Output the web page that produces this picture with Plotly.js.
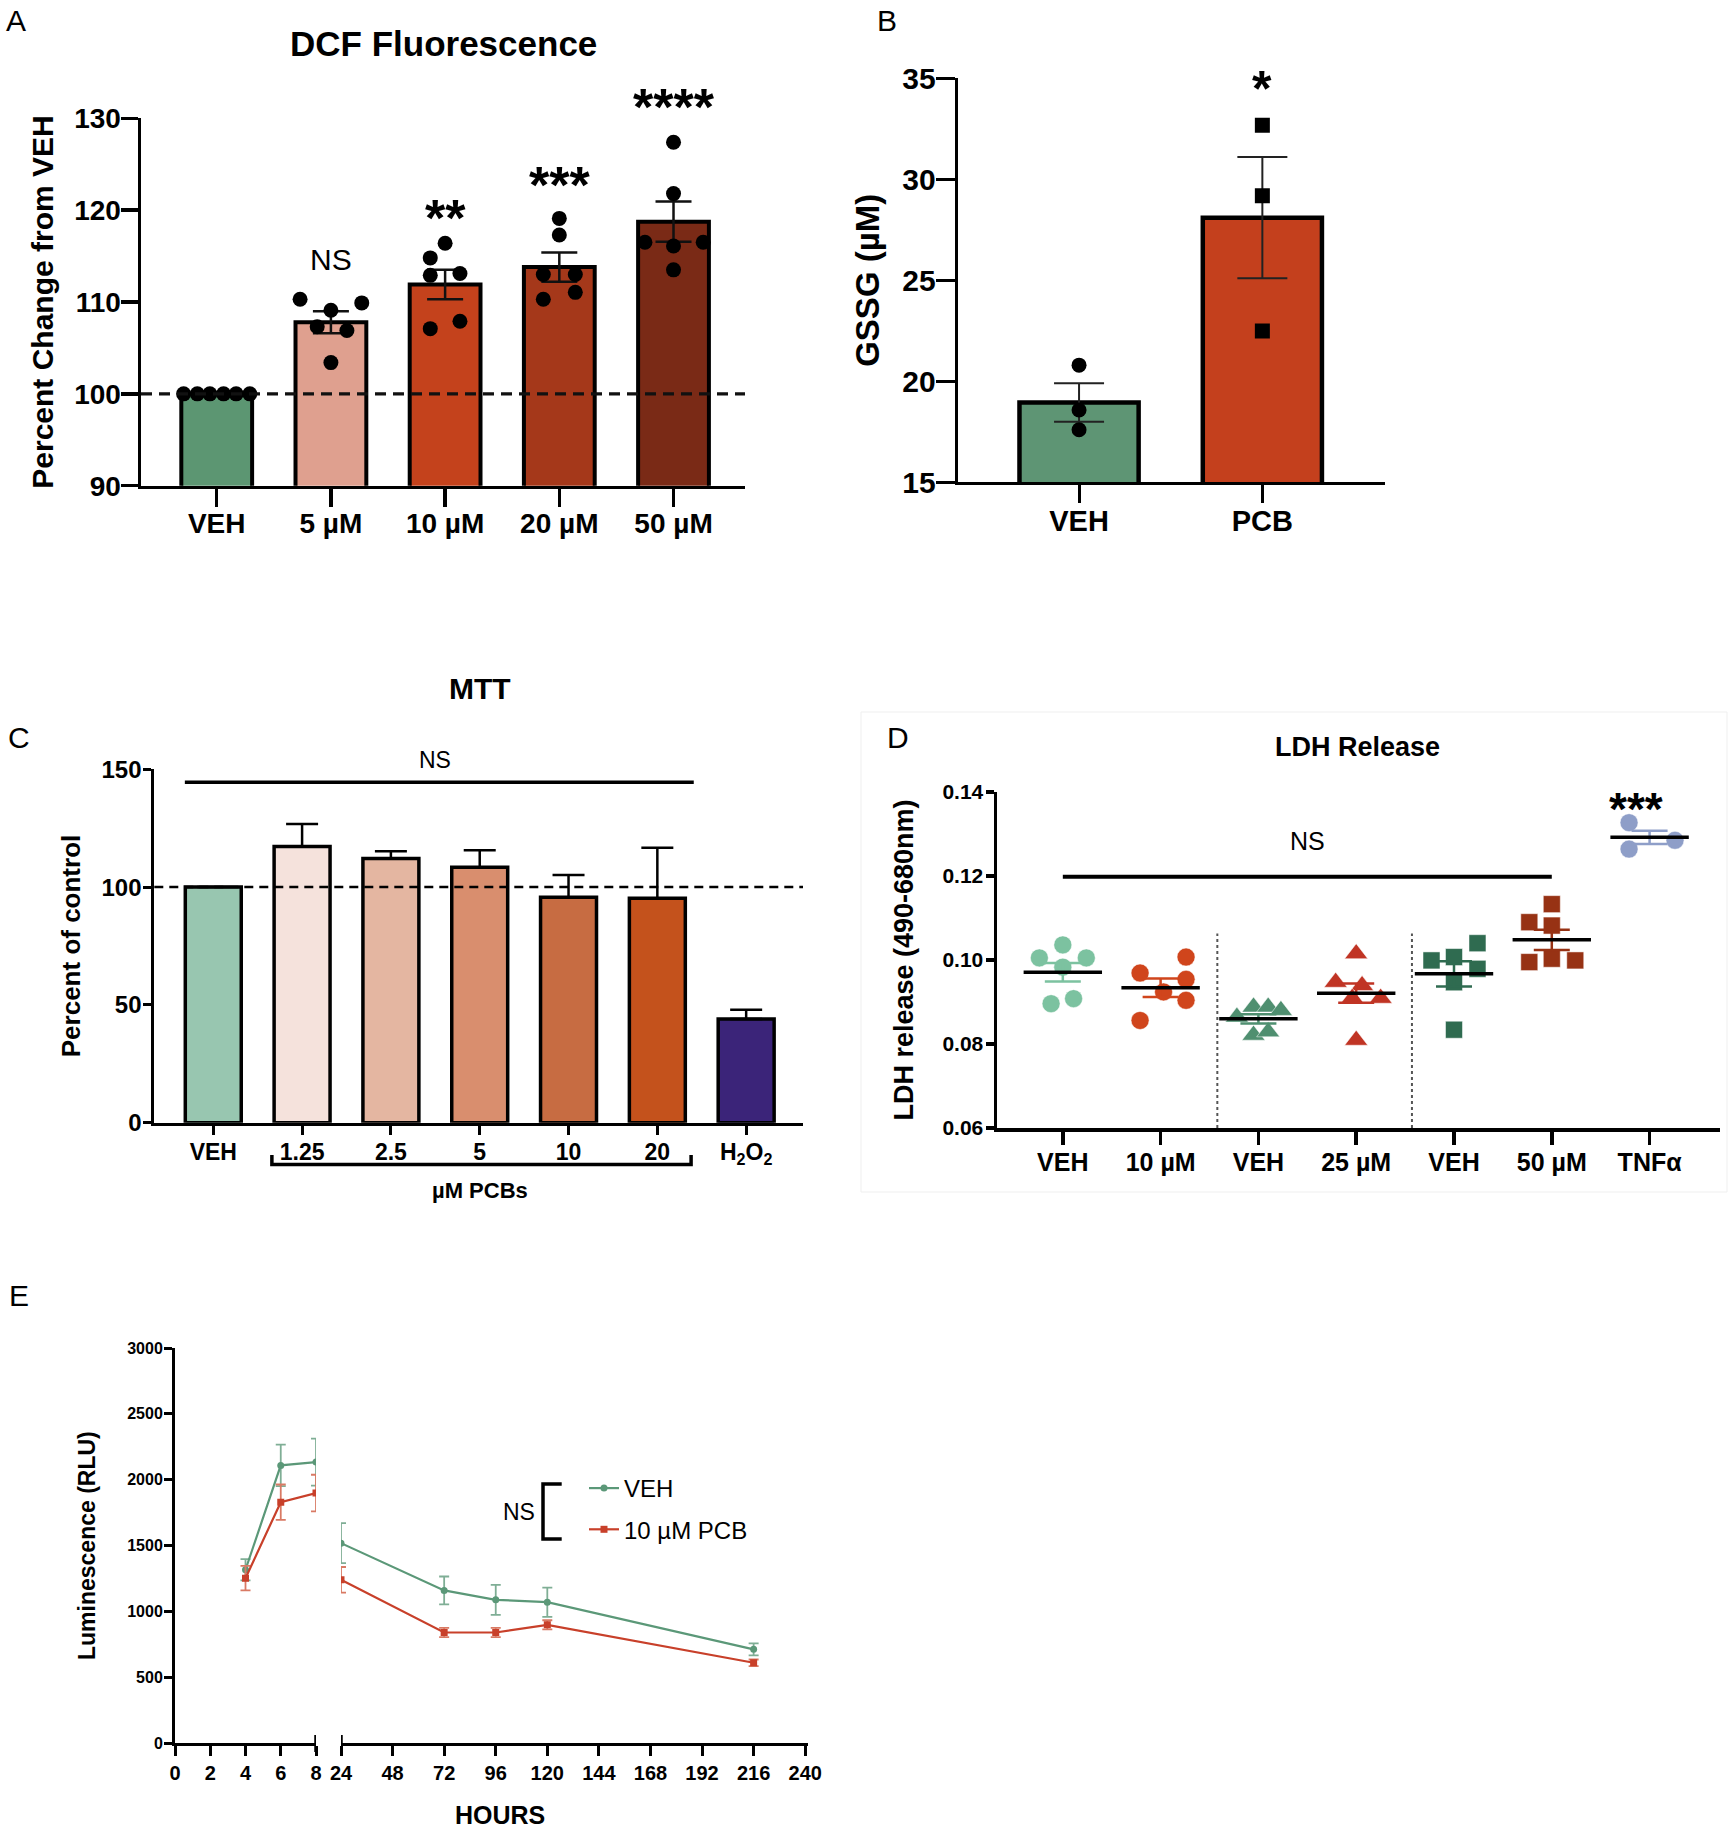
<!DOCTYPE html>
<html>
<head>
<meta charset="utf-8">
<script src="https://cdn.plot.ly/plotly-3.0.1.min.js"></script>
<style>html,body{margin:0;padding:0;background:#fff;}#chart{width:1728px;height:1830px;}</style>
</head>
<body>
<div id="chart"></div>
<script>
// ---------- Panel A: DCF Fluorescence ----------
const aCats = ['VEH', '5 µM', '10 µM', '20 µM', '50 µM'];
const aMeans = [100, 107.8, 111.9, 113.8, 118.75];
const aSem = [0, 1.2, 1.6, 1.6, 2.2];
const aPoints = [
  [100, 100, 100, 100, 100, 100],
  [110.3, 109.9, 109.1, 107.3, 106.9, 103.4],
  [116.4, 114.8, 112.9, 113.1, 107.9, 107.1],
  [119.1, 117.3, 113.0, 113.0, 111.05, 110.3],
  [127.4, 121.8, 116.5, 116.5, 116.1, 113.5]
];
const aJitter = [
  [-0.29, -0.17, -0.06, 0.06, 0.17, 0.29],
  [-0.27, 0.27, 0, -0.12, 0.14, 0],
  [0, -0.13, -0.13, 0.13, 0.13, -0.13],
  [0, 0, -0.14, 0.14, 0.14, -0.14],
  [0, 0, -0.25, 0.26, 0, 0]
];
const aColors = ['#5c9672', '#dfa08f', '#c4421c', '#a5381a', '#7a2a16'];
const aSig = ['NS', '**', '***', '****'];
const aSigY = [114.6, 120.2, 123.8, 132.3];

// ---------- Panel B: GSSG ----------
const bCats = ['VEH', 'PCB'];
const bMeans = [18.95, 28.1];
const bSem = [0.95, 3.0];
const bPoints = [[20.8, 18.58, 17.6], [32.68, 29.19, 22.49]];
const bColors = ['#5e9574', '#c4401d'];

// ---------- Panel C: MTT ----------
const cCats = ['VEH', '1.25', '2.5', '5', '10', '20', 'H<sub>2</sub>O<sub>2</sub>'];
const cMeans = [100, 117.2, 112.1, 108.4, 95.7, 95.3, 44.0];
const cSem = [0, 9.6, 3.1, 7.2, 9.4, 21.4, 3.9];
const cColors = ['#98c6b0', '#f5e2dc', '#e4b6a1', '#d98e6e', '#c76c42', '#c4521c', '#3b2479'];

// ---------- Panel D: LDH Release ----------
const dCats = ['VEH', '10 µM', 'VEH', '25 µM', 'VEH', '50 µM', 'TNFα'];
const dPoints = [
  [0.1036, 0.1005, 0.1005, 0.0983, 0.0896, 0.0908],
  [0.0969, 0.1007, 0.0954, 0.0924, 0.0904, 0.0856],
  [0.0864, 0.0888, 0.0888, 0.0880, 0.0821, 0.0829],
  [0.1015, 0.0947, 0.0939, 0.0909, 0.0909, 0.0809],
  [0.1040, 0.0999, 0.1007, 0.0979, 0.0947, 0.0834],
  [0.1133, 0.1090, 0.1082, 0.0995, 0.1003, 0.0999],
  [0.1327, 0.1264, 0.1285]
];
const dJitter = [
  [0, -0.24, 0.24, 0, -0.12, 0.11],
  [-0.21, 0.26, 0.26, 0.03, 0.26, -0.21],
  [-0.22, -0.05, 0.10, 0.23, -0.05, 0.10],
  [0, -0.21, 0.06, -0.04, 0.25, 0],
  [0.24, -0.23, 0, 0.24, 0, 0],
  [0, -0.23, 0, -0.23, 0, 0.24],
  [-0.21, -0.21, 0.26]
];
const dMeans = [0.0971, 0.0934, 0.0860, 0.0921, 0.0967, 0.1048, 0.1292];
const dSem = [0.0022, 0.0022, 0.0011, 0.0023, 0.0030, 0.0024, 0.0016];
const dColors = ['#7cc2a0', '#d0451c', '#4f8f70', '#c03424', '#2f6b50', '#973214', '#8e9ec8'];
const dSymbols = ['circle', 'circle', 'triangle-up', 'triangle-up', 'square', 'square', 'circle'];

// ---------- Panel E: Luminescence ----------
const eHoursEarly = [4, 6, 8];
const eHoursLate = [24, 72, 96, 120, 216];
const vehEarly = [1317, 2109, 2134];
const vehLate = [1519, 1160, 1089, 1071, 713];
const vehErrEarly = [81, 157, 178];
const vehErrLate = [152, 106, 114, 111, 45];
const pcbEarly = [1253, 1830, 1899];
const pcbLate = [1241, 841, 841, 899, 611];
const pcbErrEarly = [93, 134, 139];
const pcbErrLate = [97, 35, 35, 35, 25];
const eTicksEarly = [0, 2, 4, 6, 8];
const eTicksLate = [24, 48, 72, 96, 120, 144, 168, 192, 216, 240];

// ---------- helpers ----------
const W = 1728, H = 1830;
const FONT = 'Liberation Sans, Arial, sans-serif';
const px = v => v / W;
const py = v => 1 - v / H;
const idx = arr => arr.map((_, i) => i);
const bold = (size) => ({family: FONT, size: size, color: '#000', weight: 700});
const reg = (size) => ({family: FONT, size: size, color: '#000'});
const frac = (v, r) => (v - r[0]) / (r[1] - r[0]);

const aRange = [90, 130], bRange = [15, 35], cRange = [0, 150], dRange = [0.06, 0.14];

const traces = [];

// Panel A
traces.push({
  type: 'bar', x: idx(aCats), y: aMeans, xaxis: 'x', yaxis: 'y', width: 0.62,
  marker: {color: aColors, line: {color: '#000', width: 4}},
  error_y: {type: 'data', array: aSem, visible: true, color: '#111', thickness: 2.5, width: 18},
  showlegend: false
});
aPoints.forEach((vals, g) => {
  traces.push({
    type: 'scatter', mode: 'markers', xaxis: 'x', yaxis: 'y',
    x: vals.map((_, k) => g + aJitter[g][k]), y: vals,
    marker: {color: '#000', size: 15}, showlegend: false, cliponaxis: false
  });
});

// Panel B
traces.push({
  type: 'bar', x: idx(bCats), y: bMeans, xaxis: 'x2', yaxis: 'y2', width: 0.65,
  marker: {color: bColors, line: {color: '#000', width: 4.5}},
  error_y: {type: 'data', array: bSem, visible: true, color: '#222', thickness: 2, width: 25},
  showlegend: false
});
bPoints.forEach((vals, g) => {
  traces.push({
    type: 'scatter', mode: 'markers', xaxis: 'x2', yaxis: 'y2',
    x: vals.map(() => g), y: vals,
    marker: {color: '#000', size: 15, symbol: g === 0 ? 'circle' : 'square'}, showlegend: false
  });
});

// Panel C
traces.push({
  type: 'bar', x: idx(cCats), y: cMeans, xaxis: 'x3', yaxis: 'y3', width: 0.63,
  marker: {color: cColors, line: {color: '#000', width: 3.5}},
  error_y: {type: 'data', symmetric: false, array: cSem, arrayminus: cSem.map(() => 0), visible: true, color: '#000', thickness: 2.5, width: 16},
  showlegend: false
});

// Panel D
dPoints.forEach((vals, g) => {
  const sz = dSymbols[g] === 'triangle-up' ? 20 : (dSymbols[g] === 'square' ? 17 : 18);
  traces.push({
    type: 'scatter', mode: 'markers', xaxis: 'x4', yaxis: 'y4',
    x: vals.map((_, k) => g + dJitter[g][k]), y: vals,
    marker: {color: dColors[g], size: sz, symbol: dSymbols[g], line: {color: 'rgba(255,255,255,0.5)', width: 1}},
    showlegend: false
  });
});
dMeans.forEach((m, g) => {
  traces.push({
    type: 'scatter', mode: 'markers', xaxis: 'x4', yaxis: 'y4',
    x: [g], y: [m],
    marker: {symbol: 'line-ew', size: 56, color: '#000', line: {color: '#000', width: 3.5}},
    error_y: {type: 'data', array: [dSem[g]], visible: true, color: dColors[g], thickness: 2.5, width: 18},
    showlegend: false
  });
});

// Panel E
const vehColor = '#5b9878', pcbColor = '#c8402a';
[['x5', eHoursEarly, vehEarly, vehErrEarly, false], ['x6', eHoursLate, vehLate, vehErrLate, true]].forEach(s => {
  traces.push({
    type: 'scatter', mode: 'lines+markers', name: 'VEH', legendgroup: 'veh', showlegend: s[4],
    xaxis: s[0], yaxis: 'y5', x: s[1], y: s[2],
    line: {color: vehColor, width: 2.2}, marker: {color: vehColor, size: 7, symbol: 'circle'},
    error_y: {type: 'data', array: s[3], visible: true, color: '#7fae95', thickness: 1.8, width: 5}
  });
});
[['x5', eHoursEarly, pcbEarly, pcbErrEarly, false], ['x6', eHoursLate, pcbLate, pcbErrLate, true]].forEach(s => {
  traces.push({
    type: 'scatter', mode: 'lines+markers', name: '10 µM PCB', legendgroup: 'pcb', showlegend: s[4],
    xaxis: s[0], yaxis: 'y5', x: s[1], y: s[2],
    line: {color: pcbColor, width: 2.2}, marker: {color: pcbColor, size: 7, symbol: 'square'},
    error_y: {type: 'data', array: s[3], visible: true, color: '#d97a64', thickness: 1.8, width: 5}
  });
});

// ---------- axes ----------
function catAxis(domain, range, cats, anchor, fsize, ticklen, lw, lblOff) {
  return {
    domain: domain, range: range, anchor: anchor, tickmode: 'array',
    tickvals: idx(cats), ticktext: cats, ticks: 'outside', ticklen: ticklen, tickwidth: lw,
    tickcolor: '#000', showline: true, linecolor: '#000', linewidth: lw, ticklabelstandoff: lblOff,
    showgrid: false, zeroline: false, tickfont: bold(fsize), fixedrange: true
  };
}
function valAxis(domain, range, tickvals, anchor, fsize, ticklen, lw, lblOff, title, tsize, standoff, fmt) {
  return {
    domain: domain, range: range, anchor: anchor, tickmode: 'array', tickvals: tickvals, tickformat: fmt || '',
    ticks: 'outside', ticklen: ticklen, tickwidth: lw, tickcolor: '#000', ticklabelstandoff: lblOff,
    showline: true, linecolor: '#000', linewidth: lw, showgrid: false, zeroline: false,
    tickfont: bold(fsize), fixedrange: true,
    title: {text: title, font: bold(tsize), standoff: standoff}
  };
}

const layout = {
  width: W, height: H, autosize: false,
  margin: {l: 0, r: 0, t: 0, b: 0, pad: 0},
  paper_bgcolor: '#fff', plot_bgcolor: 'rgba(0,0,0,0)',
  font: {family: FONT, color: '#000'},
  showlegend: true,
  legend: {x: px(584), y: py(1466), xanchor: 'left', yanchor: 'top', font: reg(24),
           bgcolor: 'rgba(0,0,0,0)', traceorder: 'grouped', tracegroupgap: 7, itemwidth: 30},
  xaxis: catAxis([px(141), px(745)], [-0.663, 4.626], aCats, 'y', 28, 18, 3.5, -8),
  yaxis: valAxis([py(485.7), py(118.3)], aRange, [90, 100, 110, 120, 130], 'x', 28, 17, 3.5, -6, 'Percent Change from VEH', 30, 12),
  xaxis2: catAxis([px(957.7), px(1385)], [-0.662, 1.669], bCats, 'y2', 29, 18, 3, -7),
  yaxis2: valAxis([py(482.3), py(78.3)], bRange, [15, 20, 25, 30, 35], 'x2', 30, 19, 3, -6, 'GSSG (µM)', 33, 13),
  xaxis3: catAxis([px(154.3), px(803)], [-0.664, 6.64], cCats, 'y3', 23, 9, 3, -2),
  yaxis3: valAxis([py(1122.7), py(769.3)], cRange, [0, 50, 100, 150], 'x3', 24, 8, 3, -3, 'Percent of control', 26, 14),
  xaxis4: catAxis([px(997), px(1720)], [-0.673, 6.72], dCats, 'y4', 25, 13, 3.5, -4),
  yaxis4: valAxis([py(1128), py(792)], dRange, [0.06, 0.08, 0.10, 0.12, 0.14], 'x4', 21, 8, 3.5, -2, 'LDH release (490-680nm)', 27, 22, '.2f'),
  xaxis5: {domain: [px(175), px(316)], range: [0, 8], anchor: 'y5', tickmode: 'array', tickvals: eTicksEarly,
           ticks: 'outside', ticklen: 10, tickwidth: 3, tickcolor: '#000', showline: true, linecolor: '#000', linewidth: 3,
           showgrid: false, zeroline: false, tickfont: bold(20), fixedrange: true},
  xaxis6: {domain: [px(341), px(808)], range: [24, 241.3], anchor: 'y5', tickmode: 'array', tickvals: eTicksLate,
           ticks: 'outside', ticklen: 10, tickwidth: 3, tickcolor: '#000', showline: true, linecolor: '#000', linewidth: 3,
           showgrid: false, zeroline: false, tickfont: bold(20), fixedrange: true},
  yaxis5: valAxis([py(1743.3), py(1348)], [0, 3000], [0, 500, 1000, 1500, 2000, 2500, 3000], 'x5', 16, 8, 3, -2, 'Luminescence (RLU)', 23, 26),
  annotations: [],
  shapes: []
};

const ann = layout.annotations, shp = layout.shapes;
const paperText = (text, x, y, font) => ann.push({text: text, xref: 'paper', yref: 'paper', x: px(x), y: py(y),
  xanchor: 'center', yanchor: 'middle', showarrow: false, font: font});

// panel letters
[['A', 16, 21], ['B', 887, 21], ['C', 19, 737], ['D', 898, 737], ['E', 19, 1295]].forEach(l => paperText(l[0], l[1], l[2], reg(30)));
// titles
paperText('DCF Fluorescence', 444, 44, bold(35));
paperText('MTT', 480, 688, bold(30));
paperText('LDH Release', 1357, 747, bold(27));

// A significance (domain-referenced so marks above the top tick still show)
aSig.forEach((s, i) => {
  const isNS = s === 'NS';
  ann.push({text: s, xref: 'x', yref: 'y domain', x: i + 1, y: frac(aSigY[i], aRange), xanchor: 'center', yanchor: 'middle',
            showarrow: false, font: isNS ? reg(30) : bold(52), yshift: isNS ? 0 : -10});
});
// B significance
ann.push({text: '*', xref: 'x2', yref: 'y2 domain', x: 1, y: frac(35, bRange), xanchor: 'center', yanchor: 'middle',
          showarrow: false, font: bold(50), yshift: -11});

// C: NS bar, dashed reference, bracket label
shp.push({type: 'line', xref: 'x3', yref: 'y3', x0: -0.32, x1: 5.41, y0: 144.5, y1: 144.5, line: {color: '#000', width: 3.5}});
ann.push({text: 'NS', xref: 'x3', yref: 'y3 domain', x: 2.5, y: frac(154, cRange), xanchor: 'center', yanchor: 'middle',
          showarrow: false, font: reg(23)});
shp.push({type: 'line', xref: 'x3 domain', yref: 'y3', x0: 0, x1: 1, y0: 100, y1: 100, layer: 'above',
          line: {color: '#000', width: 2.5, dash: '9px,6px'}});
shp.push({type: 'path', xref: 'x3', yref: 'paper', path: `M 0.66,${py(1155)} L 0.66,${py(1164.5)} L 5.38,${py(1164.5)} L 5.38,${py(1155)}`,
          line: {color: '#000', width: 3.5}});
ann.push({text: 'µM PCBs', xref: 'x3', yref: 'paper', x: 3.0, y: py(1190), xanchor: 'center', yanchor: 'middle', showarrow: false, font: bold(22)});

// A dashed reference
shp.push({type: 'line', xref: 'x domain', yref: 'y', x0: 0, x1: 1, y0: 100, y1: 100, layer: 'above',
          line: {color: '#111', width: 3.2, dash: '11px,7px'}});

// D: border, NS bar, dotted separators, significance
shp.push({type: 'rect', xref: 'paper', yref: 'paper', x0: px(861), x1: px(1727), y0: py(1192), y1: py(712), layer: 'below',
          line: {color: '#efefef', width: 1}});
shp.push({type: 'line', xref: 'x4', yref: 'y4', x0: 0, x1: 5, y0: 0.1198, y1: 0.1198, line: {color: '#000', width: 4}});
ann.push({text: 'NS', xref: 'x4', yref: 'y4', x: 2.5, y: 0.1283, xanchor: 'center', yanchor: 'middle', showarrow: false, font: reg(25)});
[1.58, 3.57].forEach(xv => {
  shp.push({type: 'line', xref: 'x4', yref: 'y4', x0: xv, x1: xv, y0: 0.06, y1: 0.1063, line: {color: '#555', width: 2, dash: 'dot'}});
});
ann.push({text: '***', xref: 'x4', yref: 'y4', x: 5.86, y: 0.1383, xanchor: 'center', yanchor: 'middle', showarrow: false, font: bold(46), yshift: -10});

// E: axis break marks, NS bracket, x title
[['x5', 8], ['x6', 24]].forEach(b => {
  shp.push({type: 'line', xref: b[0], yref: 'paper', x0: b[1], x1: b[1], y0: py(1752), y1: py(1735), line: {color: '#000', width: 3.5}});
});
shp.push({type: 'path', xref: 'paper', yref: 'paper',
          path: `M ${px(561.7)},${py(1484)} L ${px(543)},${py(1484)} L ${px(543)},${py(1539)} L ${px(561.7)},${py(1539)}`,
          line: {color: '#000', width: 3.5}});
paperText('NS', 519, 1512, reg(23));
paperText('HOURS', 500, 1815, bold(25));

Plotly.newPlot('chart', traces, layout, {displayModeBar: false, staticPlot: true});
</script>
</body>
</html>
